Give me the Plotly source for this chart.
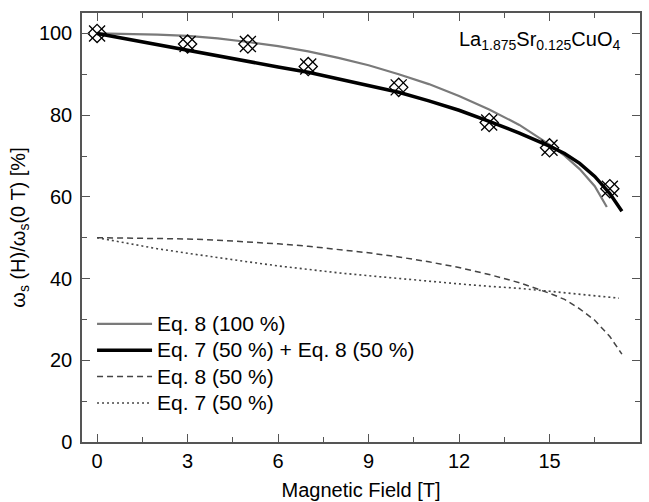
import plotly.graph_objects as go

# Measured data points
H_pts = [0, 3, 5, 7, 10, 13, 15, 17]
W_pts = [100, 97.4, 97.4, 91.9, 86.8, 78.2, 72.0, 62.0]

# Eq. 8 (100 %)
H_eq8 = [0, 1, 2, 3, 4, 5, 6, 7, 8, 9, 10, 11, 12, 13, 14, 15, 15.5, 16, 16.5, 16.9]
W_eq8 = [100, 99.9, 99.7, 99.4, 98.8, 97.9, 96.9, 95.6, 94.0, 92.2, 90.0, 87.6, 84.7, 81.4, 77.6, 72.8, 70.1, 66.8, 62.6, 57.5]

# Eq. 7 (50 %) + Eq. 8 (50 %)
H_mix = [0, 1, 2, 3, 4, 5, 6, 7, 8, 9, 10, 11, 12, 13, 14, 15, 15.5, 16, 16.5, 17, 17.4]
W_mix = [100, 98.6, 97.2, 95.9, 94.5, 93.1, 91.8, 90.5, 88.9, 87.3, 85.6, 83.5, 81.2, 78.5, 75.6, 72.4, 70.6, 68.2, 65.0, 60.8, 56.5]

# Eq. 8 (50 %)
H_eq8h = [0, 1, 2, 3, 4, 5, 6, 7, 8, 9, 10, 11, 12, 13, 14, 15, 15.5, 16, 16.5, 17, 17.4]
W_eq8h = [50, 49.95, 49.85, 49.7, 49.4, 49.0, 48.5, 47.9, 47.1, 46.3, 45.3, 44.1, 42.7, 41.0, 39.0, 36.4, 34.9, 32.6, 29.8, 25.8, 21.5]

# Eq. 7 (50 %)
H_eq7h = [0, 1, 2, 3, 4, 5, 6, 7, 8, 9, 10, 11, 12, 13, 14, 15, 16, 17, 17.3]
W_eq7h = [50, 48.6, 47.3, 46.2, 45.1, 44.1, 43.1, 42.2, 41.4, 40.7, 40.0, 39.3, 38.7, 38.1, 37.6, 36.9, 36.2, 35.5, 35.2]

legend_names = ["Eq. 8 (100 %)", "Eq. 7 (50 %) + Eq. 8 (50 %)", "Eq. 8 (50 %)", "Eq. 7 (50 %)"]

FONT = "Liberation Sans, Arial, Helvetica, sans-serif"


def big(t):
    return '<span style="font-size:21px">' + t + '</span>'


fig = go.Figure()

fig.add_trace(go.Scatter(x=H_eq8, y=W_eq8, mode="lines", name=big(legend_names[0]),
                         line=dict(color="#7a7a7a", width=2.2)))
fig.add_trace(go.Scatter(x=H_mix, y=W_mix, mode="lines", name=big(legend_names[1]),
                         line=dict(color="#000000", width=3.5)))
fig.add_trace(go.Scatter(x=H_eq8h, y=W_eq8h, mode="lines", name=big(legend_names[2]),
                         line=dict(color="#444444", width=1.5, dash="6px,4px")))
fig.add_trace(go.Scatter(x=H_eq7h, y=W_eq7h, mode="lines", name=big(legend_names[3]),
                         line=dict(color="#444444", width=1.6, dash="2px,3px")))

fig.add_trace(go.Scatter(x=H_pts, y=W_pts, mode="markers", showlegend=False,
                         marker=dict(symbol="x-thin-open", size=16, color="black",
                                     line=dict(color="black", width=1.3))))
fig.add_trace(go.Scatter(x=H_pts, y=W_pts, mode="markers", showlegend=False,
                         marker=dict(symbol="diamond-open", size=14, color="black",
                                     line=dict(color="black", width=1.3))))

axis_common = dict(showline=True, linecolor="#555555", linewidth=1.5, mirror="allticks",
                   ticks="inside", ticklen=8, tickwidth=1.3, tickcolor="#555555",
                   showgrid=False, zeroline=False, automargin=False,
                   tickfont=dict(family=FONT, size=20, color="black"))

fig.update_xaxes(range=[-0.5, 18], tickmode="array", tickvals=[0, 3, 6, 9, 12, 15, 18],
                 minor=dict(dtick=1.5, tick0=0, ticks="inside", ticklen=5, tickcolor="#555555", tickwidth=1.2),
                 title=dict(text="Magnetic Field [T]", font=dict(family=FONT, size=20, color="black"),
                            standoff=12),
                 **axis_common)
fig.update_yaxes(range=[0, 105], tickmode="array", tickvals=[0, 20, 40, 60, 80, 100],
                 minor=dict(dtick=10, tick0=0, ticks="inside", ticklen=5, tickcolor="#555555", tickwidth=1.2),
                 title=dict(text="ω<sub>s</sub> (H)/ω<sub>s</sub>(0 T) [%]",
                            font=dict(family=FONT, size=20, color="black"), standoff=8),
                 ticklabelstandoff=4,
                 **axis_common)

fig.add_annotation(text="La<sub>1.875</sub>Sr<sub>0.125</sub>CuO<sub>4</sub>",
                   xref="paper", yref="paper", x=0.967, y=0.935, xanchor="right", yanchor="middle",
                   showarrow=False, font=dict(family=FONT, size=20, color="black"))

fig.update_layout(
    width=649, height=502,
    margin=dict(l=82, r=9, t=13, b=60),
    plot_bgcolor="white", paper_bgcolor="white",
    font=dict(family=FONT, size=20, color="black"),
    legend=dict(x=0.018, y=0.318, xanchor="left", yanchor="top",
                bgcolor="rgba(0,0,0,0)", borderwidth=0,
                itemwidth=55, tracegroupgap=0,
                font=dict(family=FONT, size=18, color="black")),
)

fig.write_html("out.html")
